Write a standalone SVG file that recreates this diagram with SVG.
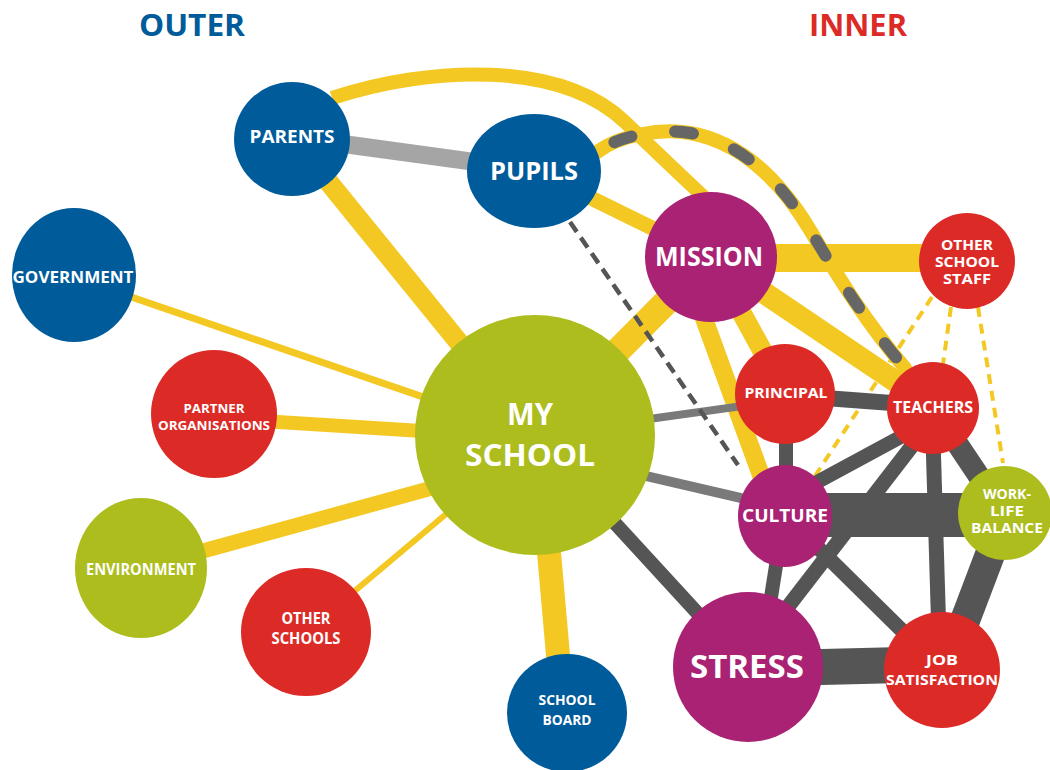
<svg xmlns="http://www.w3.org/2000/svg" width="1050" height="770" viewBox="0 0 1050 770">
<style>
.y{stroke:#f4c823;fill:none}
.d{stroke:#555555;fill:none}
.m{stroke:#7a7a7a;fill:none}
.yd{stroke:#f4c823;stroke-width:4;stroke-dasharray:10 7;fill:none}
.blue{fill:#005b9a}.red{fill:#dc2b27}.mag{fill:#a92274}.grn{fill:#acbd1d}
text{font-family:"Open Sans","Liberation Sans",sans-serif;font-weight:700;fill:#ffffff;text-anchor:middle}
.h{font-size:30px}
</style>
<rect width="1050" height="770" fill="#ffffff"/>
<text class="h" x="192" y="36" style="fill:#005b9a" textLength="106" lengthAdjust="spacingAndGlyphs">OUTER</text>
<text class="h" x="858" y="36" style="fill:#dc2b27" textLength="98" lengthAdjust="spacingAndGlyphs">INNER</text>
<g id="connectors">
<line class="y" x1="292" y1="137" x2="534" y2="435" stroke-width="20"/>
<line class="y" x1="73" y1="277" x2="534" y2="435" stroke-width="7"/>
<line class="y" x1="213" y1="418" x2="534" y2="438" stroke-width="14"/>
<line class="y" x1="141" y1="568" x2="534" y2="460" stroke-width="15"/>
<line class="y" x1="306" y1="632" x2="534" y2="440" stroke-width="6"/>
<line class="y" x1="540" y1="450" x2="563" y2="712" stroke-width="24"/>
<line class="y" x1="534" y1="435" x2="711" y2="257" stroke-width="26"/>
<line class="y" x1="534" y1="170" x2="711" y2="257" stroke-width="15"/>
<line class="y" x1="711" y1="258" x2="967" y2="258" stroke-width="28"/>
<line class="y" x1="711" y1="257" x2="785" y2="392" stroke-width="20"/>
<line class="y" x1="690" y1="280" x2="770" y2="500" stroke-width="18"/>
<line class="y" x1="711" y1="257" x2="932" y2="406" stroke-width="22"/>
<path class="y" d="M332,98 C430,66 560,60 625,122 C650,146 675,170 705,198" stroke-width="14"/>
<line class="yd" x1="932" y1="297" x2="815" y2="476"/>
<line class="yd" x1="951" y1="307" x2="943" y2="364"/>
<line class="yd" x1="978" y1="307" x2="1003" y2="463"/>
<line x1="292" y1="137" x2="534" y2="170" stroke="#a5a5a5" stroke-width="18"/>
<line class="m" x1="534" y1="435" x2="785" y2="400" stroke-width="8"/>
<line class="m" x1="534" y1="450" x2="784" y2="508" stroke-width="10"/>
<line x1="570" y1="222" x2="738" y2="465" stroke="#555555" stroke-width="4.5" stroke-dasharray="12 7"/>
<line class="d" x1="534" y1="435" x2="747" y2="667" stroke-width="14"/>
<line class="d" x1="785" y1="395" x2="932" y2="406" stroke-width="16"/>
<line class="d" x1="786" y1="420" x2="786" y2="490" stroke-width="14"/>
<line class="d" x1="784" y1="500" x2="932" y2="420" stroke-width="14"/>
<line class="d" x1="784" y1="515" x2="1005" y2="515" stroke-width="44"/>
<line class="d" x1="784" y1="515" x2="760" y2="667" stroke-width="14"/>
<line class="d" x1="770" y1="630" x2="932" y2="420" stroke-width="15"/>
<line class="d" x1="800" y1="530" x2="942" y2="670" stroke-width="15"/>
<line class="d" x1="932" y1="406" x2="940" y2="670" stroke-width="15"/>
<line class="d" x1="932" y1="406" x2="1005" y2="515" stroke-width="22"/>
<line class="d" x1="1005" y1="515" x2="950" y2="660" stroke-width="30"/>
<line class="d" x1="747" y1="669" x2="942" y2="664" stroke-width="36"/>
<path d="M597,152 C620,135 660,128 690,133 C740,142 780,180 810,230 C840,280 868,325 905,368" fill="none" stroke="#f4c823" stroke-width="14" stroke-linecap="round"/>
<path d="M597,152 C620,135 660,128 690,133 C740,142 780,180 810,230 C840,280 868,325 905,368" fill="none" stroke="#666666" stroke-width="12" stroke-linecap="round" stroke-dasharray="18 44" stroke-dashoffset="-20"/>
</g>
<g id="parents"><ellipse class="blue" cx="292" cy="139" rx="58" ry="57"/><text x="292" y="143" font-size="17" textLength="85" lengthAdjust="spacingAndGlyphs">PARENTS</text></g>
<g id="pupils"><ellipse class="blue" cx="534" cy="171" rx="67" ry="57"/><text x="534" y="180" font-size="25" textLength="88" lengthAdjust="spacingAndGlyphs">PUPILS</text></g>
<g id="government"><ellipse class="blue" cx="74" cy="275" rx="62" ry="67"/><text x="73" y="283" font-size="16" textLength="121" lengthAdjust="spacingAndGlyphs">GOVERNMENT</text></g>
<g id="partner"><ellipse class="red" cx="214" cy="414" rx="63" ry="64"/><text x="214" y="413" font-size="13" textLength="61" lengthAdjust="spacingAndGlyphs">PARTNER</text><text x="214" y="430" font-size="13" textLength="112" lengthAdjust="spacingAndGlyphs">ORGANISATIONS</text></g>
<g id="environment"><ellipse class="grn" cx="141" cy="568" rx="66" ry="70"/><text x="141" y="575" font-size="16" textLength="110" lengthAdjust="spacingAndGlyphs">ENVIRONMENT</text></g>
<g id="otherschools"><ellipse class="red" cx="306" cy="632" rx="65" ry="64"/><text x="306" y="624" font-size="16" textLength="49" lengthAdjust="spacingAndGlyphs">OTHER</text><text x="306" y="644" font-size="16" textLength="69" lengthAdjust="spacingAndGlyphs">SCHOOLS</text></g>
<g id="schoolboard"><ellipse class="blue" cx="567" cy="713" rx="60" ry="59"/><text x="567" y="705" font-size="15" textLength="57" lengthAdjust="spacingAndGlyphs">SCHOOL</text><text x="567" y="725" font-size="15" textLength="49" lengthAdjust="spacingAndGlyphs">BOARD</text></g>
<g id="myschool"><circle class="grn" cx="535" cy="435" r="120"/><text x="530" y="425" font-size="30" textLength="46" lengthAdjust="spacingAndGlyphs">MY</text><text x="530" y="466" font-size="30" textLength="130" lengthAdjust="spacingAndGlyphs">SCHOOL</text></g>
<g id="mission"><ellipse class="mag" cx="711" cy="257" rx="66" ry="65"/><text x="709" y="266" font-size="26" textLength="108" lengthAdjust="spacingAndGlyphs">MISSION</text></g>
<g id="otherschoolstaff"><circle class="red" cx="967" cy="261" r="48"/><text x="967" y="250" font-size="14" textLength="52" lengthAdjust="spacingAndGlyphs">OTHER</text><text x="967" y="267" font-size="14" textLength="64" lengthAdjust="spacingAndGlyphs">SCHOOL</text><text x="967" y="284" font-size="14" textLength="48" lengthAdjust="spacingAndGlyphs">STAFF</text></g>
<g id="principal"><circle class="red" cx="785" cy="394" r="50"/><text x="786" y="398" font-size="15" textLength="83" lengthAdjust="spacingAndGlyphs">PRINCIPAL</text></g>
<g id="teachers"><circle class="red" cx="933" cy="408" r="46"/><text x="933" y="413" font-size="16" textLength="80" lengthAdjust="spacingAndGlyphs">TEACHERS</text></g>
<g id="culture"><ellipse class="mag" cx="785" cy="516" rx="47" ry="51"/><text x="785" y="522" font-size="18" textLength="86" lengthAdjust="spacingAndGlyphs">CULTURE</text></g>
<g id="worklife"><circle class="grn" cx="1005" cy="513" r="47"/><text x="1007" y="499" font-size="14" textLength="48" lengthAdjust="spacingAndGlyphs">WORK-</text><text x="1007" y="516" font-size="14" textLength="34" lengthAdjust="spacingAndGlyphs">LIFE</text><text x="1007" y="533" font-size="14" textLength="72" lengthAdjust="spacingAndGlyphs">BALANCE</text></g>
<g id="stress"><circle class="mag" cx="748" cy="667" r="75"/><text x="747" y="678" font-size="32" textLength="114" lengthAdjust="spacingAndGlyphs">STRESS</text></g>
<g id="jobsatisfaction"><circle class="red" cx="942" cy="670" r="58"/><text x="942" y="665" font-size="15" textLength="32" lengthAdjust="spacingAndGlyphs">JOB</text><text x="942" y="685" font-size="15" textLength="112" lengthAdjust="spacingAndGlyphs">SATISFACTION</text></g>
</svg>
